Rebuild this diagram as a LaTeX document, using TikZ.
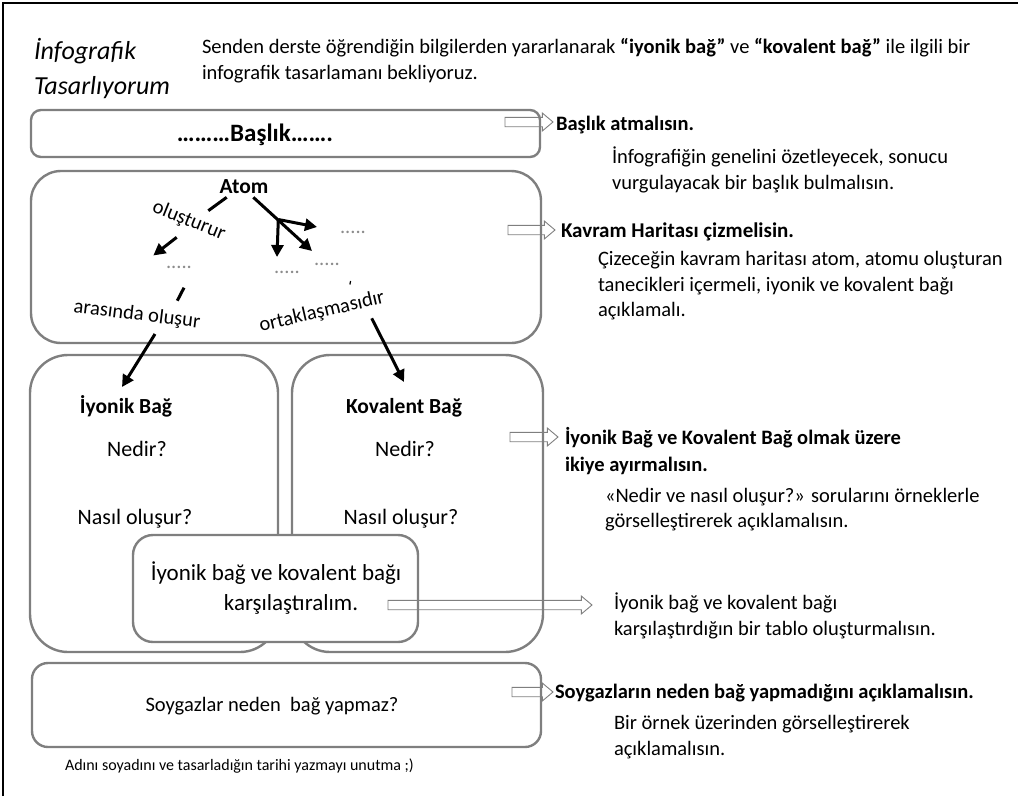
\documentclass[tikz,border=0pt]{standalone}
\usepackage{fontspec}
\setmainfont{Carlito}
\usetikzlibrary{arrows.meta,shapes.arrows}
\definecolor{boxgray}{HTML}{7F7F7F}
\definecolor{dotgray}{HTML}{8C8C8C}
\newcommand{\fs}[1]{\fontsize{#1}{25}\selectfont}
\begin{document}
\begin{tikzpicture}[x=1pt,y=-1pt,
  base/.style={inner sep=0pt, outer sep=0pt, font=\fs{20.5}},
  lft/.style={base, anchor=base west},
  ctr/.style={base, anchor=base},
  hd/.style={lft, font=\fs{20.5}\bfseries},
  boxed/.style={draw=boxgray, line width=2.4pt, inner sep=0pt, outer sep=0pt},
  link/.style={line width=3pt, -{Triangle[length=12pt,width=12pt]}},
  stub/.style={line width=3pt},
  hollow/.style={single arrow, draw=boxgray, line width=0.9pt,
    text width=0pt, text height=4.25pt, text depth=4.25pt,
    single arrow head extend=4.25pt, single arrow tip angle=80,
    inner sep=0pt, outer sep=0pt, anchor=tip},
  dotrow/.style={ctr, text=dotgray}
]
\useasboundingbox (0,0) rectangle (1020,796);

% page frame (top and left edges)
\draw[line width=2pt] (3,796) -- (3,3) -- (1018,3);

% heading
\node[lft, font=\fs{26}\itshape] (t1) at (34,59) {İnfografik};
\node[lft, font=\fs{26}\itshape] (t2) at (34,94) {Tasarlıyorum};
\node[lft] (i1) at (202,53) {Senden derste öğrendiğin bilgilerden yararlanarak \textbf{“iyonik bağ”} ve \textbf{“kovalent bağ”} ile ilgili bir};
\node[lft] (i2) at (202,79) {infografik tasarlamanı bekliyoruz.};

% boxes
\node[boxed, rounded corners=10pt, minimum width=509pt, minimum height=47pt] (tbox) at (285.5,133.5) {};
\node[boxed, rounded corners=30pt, minimum width=510pt, minimum height=172pt] (cbox) at (286,257) {};
\node[boxed, rounded corners=38pt, minimum width=248pt, minimum height=297pt] (ibox) at (154,503.5) {};
\node[boxed, rounded corners=38pt, minimum width=251pt, minimum height=297pt] (kbox) at (417.5,503.5) {};
\node[boxed, fill=white, rounded corners=20pt, minimum width=285pt, minimum height=107pt] (cmp) at (275.5,588.5) {};
\node[boxed, rounded corners=16pt, minimum width=509pt, minimum height=84pt] (sbox) at (286.5,705) {};

% box texts
\node[ctr, font=\fs{25}\bfseries] (baslik) at (255,141) {………Başlık…….};
\node[ctr, font=\fs{21.5}\bfseries] (atom) at (244,193) {Atom};
\node[ctr, font=\fs{21.5}\bfseries] (ib) at (126,413) {İyonik Bağ};
\node[ctr, font=\fs{21.5}\bfseries] (kb) at (404,413) {Kovalent Bağ};
\node[ctr, font=\fs{22}] (in) at (137,456) {Nedir?};
\node[ctr, font=\fs{22}] (kn) at (405,456) {Nedir?};
\node[ctr, font=\fs{22}] (io) at (135,524) {Nasıl oluşur?};
\node[ctr, font=\fs{22}] (ko) at (401,524) {Nasıl oluşur?};
\node[ctr, font=\fs{23}] (cm1) at (276,580) {İyonik bağ ve kovalent bağı};
\node[ctr, font=\fs{23}] (cm2) at (291,610) {karşılaştıralım.};
\node[ctr] (soy) at (272,711) {Soygazlar neden\ \ bağ yapmaz?};
\node[lft, font=\fs{16}] (note) at (65,770) {Adını soyadını ve tasarladığın tarihi yazmayı unutma ;)};

% concept map
\node[dotrow] (d1) at (179,268) {.....};
\node[dotrow] (d2) at (353,233) {.....};
\node[dotrow] (d3) at (287,273) {.....};
\node[dotrow] (d4) at (327,265) {.....};
\node[base, rotate=-22] (l1) at (189,221) {oluşturur};
\node[base, rotate=-7] (l2) at (137,315) {arasında oluşur};
\node[base, rotate=13] (l3) at (322,312) {ortaklaşmasıdır};

\coordinate (p1) at (226.7,197.3);
\coordinate (p2) at (208.3,210.7);
\coordinate (p3) at (176.7,237.3);
\coordinate (p4) at (153.3,255.5);
\coordinate (q1) at (184,287.7);
\coordinate (q2) at (177.3,300.7);
\coordinate (q3) at (155,334);
\coordinate (q4) at (122,387);
\coordinate (r0) at (253.3,197.3);
\coordinate (rf) at (278.3,219.5);
\coordinate (r1) at (312,251);
\coordinate (r2) at (317,227);
\coordinate (r3) at (277,257);
\coordinate (s1) at (371.7,318.3);
\coordinate (s2) at (404,382);
\coordinate (m1) at (350.6,281);
\coordinate (m2) at (349.9,284.5);

\draw[stub] (p1) -- (p2);
\draw[link] (p3) -- (p4);
\draw[stub] (q1) -- (q2);
\draw[link] (q3) -- (q4);
\draw[link] (r0) -- (r1);
\draw[link] (rf) -- (r2);
\draw[link] (rf) -- (r3);
\draw[link] (s1) -- (s2);
\draw[line width=1.2pt] (m1) -- (m2);

% hollow pointers and instructions
\node[hollow, minimum height=48pt] (a1) at (553,122) {};
\node[hd] (h1) at (556,130) {Başlık atmalısın.};
\node[lft] (r1a) at (612,163) {İnfografiğin genelini özetleyecek, sonucu};
\node[lft] (r1b) at (612,189) {vurgulayacak bir başlık bulmalısın.};

\node[hollow, minimum height=47pt] (a2) at (555,230) {};
\node[hd, font=\fs{21}\bfseries] (h2) at (561,237) {Kavram Haritası çizmelisin.};
\node[lft] (r2a) at (598,265) {Çizeceğin kavram haritası atom, atomu oluşturan};
\node[lft] (r2b) at (598,291) {tanecikleri içermeli, iyonik ve kovalent bağı};
\node[lft] (r2c) at (598,316) {açıklamalı.};

\node[hollow, minimum height=48pt] (a3) at (558,437) {};
\node[hd] (h3a) at (565,444) {İyonik Bağ ve Kovalent Bağ olmak üzere};
\node[hd] (h3b) at (565,471) {ikiye ayırmalısın.};
\node[lft] (r3a) at (605,502) {«Nedir ve nasıl oluşur?» sorularını örneklerle};
\node[lft] (r3b) at (605,527) {görselleştirerek açıklamalısın.};

\node[hollow, minimum height=204pt] (a4) at (592,605) {};
\node[lft] (r4a) at (614,609) {İyonik bağ ve kovalent bağı};
\node[lft] (r4b) at (614,635) {karşılaştırdığın bir tablo oluşturmalısın.};

\node[hollow, minimum height=41pt] (a5) at (553,692) {};
\node[hd] (h5) at (555,698) {Soygazların neden bağ yapmadığını açıklamalısın.};
\node[lft] (r5a) at (614,729) {Bir örnek üzerinden görselleştirerek};
\node[lft] (r5b) at (614,755) {açıklamalısın.};
\end{tikzpicture}
\end{document}
